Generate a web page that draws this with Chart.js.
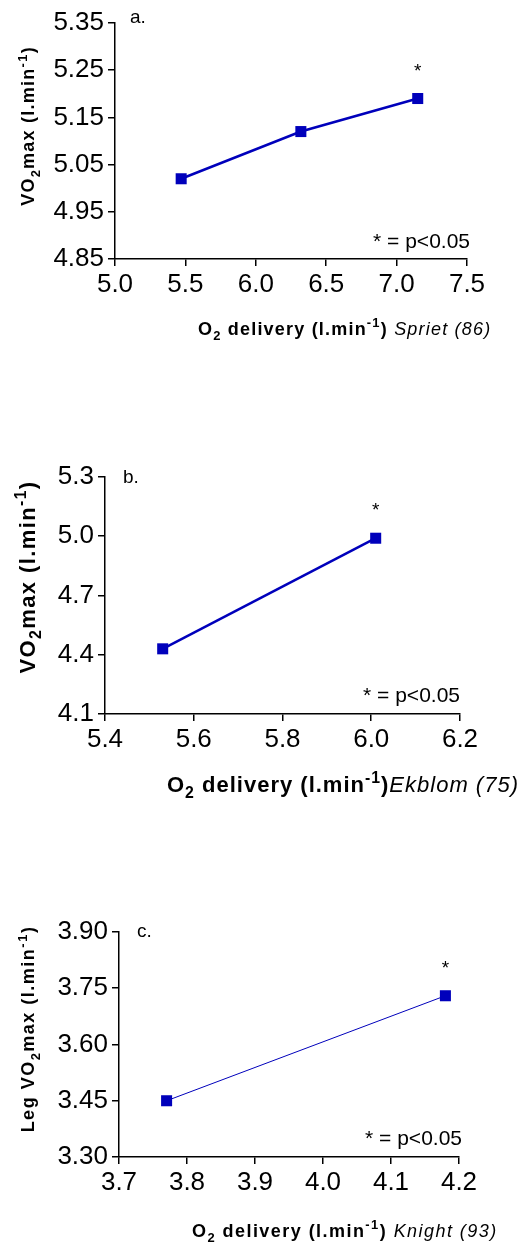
<!DOCTYPE html>
<html>
<head>
<meta charset="utf-8">
<script src="https://cdn.jsdelivr.net/npm/chart.js@4.4.1/dist/chart.umd.min.js"></script>
<style>
  body { margin: 0; background: #fff; }
  canvas { position: absolute; left: 0; }
</style>
</head>
<body>
<canvas id="chartA" width="521" height="400" style="top:0px"></canvas>
<canvas id="chartB" width="521" height="400" style="top:420px"></canvas>
<canvas id="chartC" width="521" height="383" style="top:860px"></canvas>
<script>
// panel a - Spriet (86)
const deliveryA = [5.47, 6.32, 7.15];
const vo2A = [5.02, 5.12, 5.19];
const xTicksA = [5.0, 5.5, 6.0, 6.5, 7.0, 7.5];
const yTicksA = [4.85, 4.95, 5.05, 5.15, 5.25, 5.35];

// panel b - Ekblom (75)
const deliveryB = [5.53, 6.01];
const vo2B = [4.43, 4.99];
const xTicksB = [5.4, 5.6, 5.8, 6.0, 6.2];
const yTicksB = [4.1, 4.4, 4.7, 5.0, 5.3];

// panel c - Knight (93)
const deliveryC = [3.77, 4.18];
const vo2C = [3.45, 3.73];
const xTicksC = [3.7, 3.8, 3.9, 4.0, 4.1, 4.2];
const yTicksC = [3.30, 3.45, 3.60, 3.75, 3.90];

const FONT = "'Liberation Sans', Arial, sans-serif";
const BLUE = '#0000BB';

// draws a line of mixed bold/italic/sub/sup text, char by char so it can be spaced out
function richText(ctx, parts, size, spacing, x, y, rotate) {
  ctx.save();
  ctx.translate(x, y);
  if (rotate) ctx.rotate(-Math.PI / 2);
  ctx.textBaseline = 'alphabetic';
  ctx.textAlign = 'left';
  const fontOf = p => (p.i ? 'italic ' : '') + (p.b ? 'bold ' : '') +
    ((p.sub || p.sup) ? size * 0.72 : size) + 'px ' + FONT;
  let w = 0;
  parts.forEach(p => {
    ctx.font = fontOf(p);
    for (const c of p.t) w += ctx.measureText(c).width + spacing;
  });
  let cx = rotate ? -w / 2 : 0;
  ctx.fillStyle = '#000';
  parts.forEach(p => {
    ctx.font = fontOf(p);
    const dy = p.sub ? size * 0.28 : (p.sup ? -size * 0.42 : 0);
    for (const c of p.t) {
      ctx.fillText(c, cx, (rotate ? size * 0.36 : 0) + dy);
      cx += ctx.measureText(c).width + spacing;
    }
  });
  ctx.restore();
}

const notesPlugin = {
  id: 'notes',
  afterDraw(chart, args, o) {
    const ctx = chart.ctx;
    const xs = chart.scales.x, ys = chart.scales.y;
    ctx.save();
    ctx.fillStyle = '#000';
    ctx.font = '19px ' + FONT;
    ctx.textAlign = 'left';
    ctx.textBaseline = 'alphabetic';
    ctx.fillText(o.letter, o.letterX, o.letterY);
    // significance star above last point
    ctx.textAlign = 'center';
    ctx.fillText('*', xs.getPixelForValue(o.starX), ys.getPixelForValue(o.starY) - o.starGap);
    ctx.font = '21px ' + FONT;
    ctx.textAlign = 'right';
    ctx.fillText('* = p<0.05', o.keyX, o.keyY);
    ctx.restore();
    richText(ctx, o.yTitle, o.yTitleSize, o.yTitleSp, o.yTitleX, o.yTitleY, true);
    richText(ctx, o.xTitle, o.xTitleSize, o.xTitleSp, o.xTitleX, o.xTitleY, false);
  }
};

function vo2Title(prefix) {
  return [
    { t: prefix + 'VO', b: 1 }, { t: '2', b: 1, sub: 1 }, { t: 'max (l.min', b: 1 },
    { t: '-1', b: 1, sup: 1 }, { t: ')', b: 1 }
  ];
}
function deliveryTitle(ref) {
  return [
    { t: 'O', b: 1 }, { t: '2', b: 1, sub: 1 }, { t: ' delivery (l.min', b: 1 },
    { t: '-1', b: 1, sup: 1 }, { t: ')', b: 1 }, { t: ref, i: 1 }
  ];
}

function makeChart(id, xs, ys, xTicks, yTicks, xDec, yDec, area, lineW, notes) {
  const canvas = document.getElementById(id);
  const W = canvas.width, H = canvas.height;
  const axisStyle = {
    grid: { drawOnChartArea: false, drawTicks: true, tickLength: 7, color: '#000', lineWidth: 1.5 },
    border: { color: '#000', width: 1.5 }
  };
  return new Chart(canvas.getContext('2d'), {
    type: 'scatter',
    data: {
      datasets: [{
        data: xs.map((v, i) => ({ x: v, y: ys[i] })),
        showLine: true,
        borderColor: BLUE,
        borderWidth: lineW,
        backgroundColor: BLUE,
        pointStyle: 'rect',
        pointRadius: 7.8,
        pointBorderWidth: 0,
        pointBackgroundColor: BLUE
      }]
    },
    options: {
      responsive: false,
      animation: false,
      layout: { padding: { left: 0, top: area.top, right: W - area.right, bottom: 0 } },
      plugins: { legend: { display: false }, tooltip: { enabled: false }, notes: notes },
      scales: {
        x: Object.assign({
          type: 'linear',
          min: xTicks[0], max: xTicks[xTicks.length - 1],
          afterBuildTicks: s => { s.ticks = xTicks.map(v => ({ value: v })); },
          afterFit: s => { s.height = H - area.bottom; },
          ticks: { color: '#000', padding: 3, autoSkip: false, maxRotation: 0,
                   font: { family: FONT, size: 26 }, callback: v => v.toFixed(xDec) }
        }, axisStyle),
        y: Object.assign({
          type: 'linear',
          min: yTicks[0], max: yTicks[yTicks.length - 1],
          afterBuildTicks: s => { s.ticks = yTicks.map(v => ({ value: v })); },
          afterFit: s => { s.width = area.left; },
          ticks: { color: '#000', padding: 4, autoSkip: false,
                   font: { family: FONT, size: 26 }, callback: v => v.toFixed(yDec) }
        }, axisStyle)
      }
    },
    plugins: [notesPlugin]
  });
}

makeChart('chartA', deliveryA, vo2A, xTicksA, yTicksA, 1, 2,
  { left: 115, right: 467, top: 23, bottom: 259 }, 2.5, {
    letter: 'a.', letterX: 130, letterY: 23,
    starX: deliveryA[2], starY: vo2A[2], starGap: 22,
    keyX: 470, keyY: 248,
    yTitle: vo2Title(''), yTitleSize: 18, yTitleSp: 1.25, yTitleX: 28, yTitleY: 126,
    xTitle: deliveryTitle(' Spriet (86)'), xTitleSize: 18, xTitleSp: 1.2, xTitleX: 198, xTitleY: 335
  });

makeChart('chartB', deliveryB, vo2B, xTicksB, yTicksB, 1, 1,
  { left: 105, right: 460, top: 57, bottom: 294 }, 2.5, {
    letter: 'b.', letterX: 123, letterY: 63,
    starX: deliveryB[1], starY: vo2B[1], starGap: 22,
    keyX: 460, keyY: 282,
    yTitle: vo2Title(''), yTitleSize: 22, yTitleSp: 1.4, yTitleX: 27, yTitleY: 157,
    xTitle: deliveryTitle('Ekblom (75)'), xTitleSize: 22, xTitleSp: 1.0, xTitleX: 167, xTitleY: 372
  });

makeChart('chartC', deliveryC, vo2C, xTicksC, yTicksC, 1, 2,
  { left: 119, right: 459, top: 72, bottom: 297 }, 1, {
    letter: 'c.', letterX: 137, letterY: 77,
    starX: deliveryC[1], starY: vo2C[1], starGap: 22,
    keyX: 462, keyY: 285,
    yTitle: vo2Title('Leg '), yTitleSize: 18, yTitleSp: 1.5, yTitleX: 28, yTitleY: 169,
    xTitle: deliveryTitle(' Knight (93)'), xTitleSize: 18, xTitleSp: 1.45, xTitleX: 192, xTitleY: 377
  });
</script>
</body>
</html>
